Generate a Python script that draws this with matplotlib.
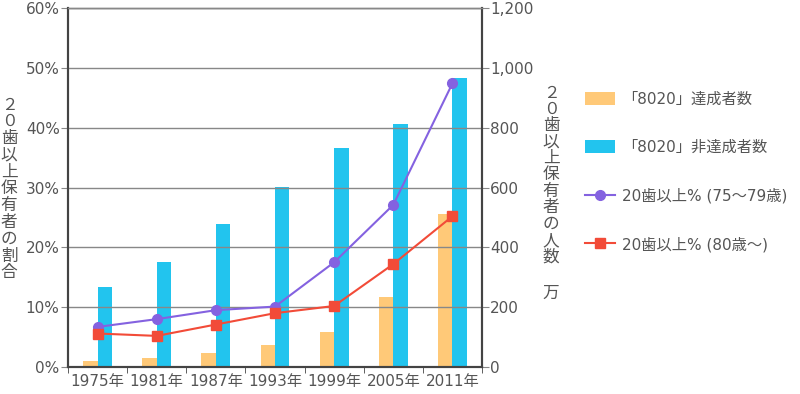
import matplotlib
matplotlib.use("Agg")
import matplotlib.pyplot as plt
from matplotlib.ticker import FuncFormatter, FixedLocator
from matplotlib.patches import Patch
from matplotlib.lines import Line2D
import numpy as np

plt.rcParams['font.family'] = ['DejaVu Sans', 'Noto Sans CJK JP']

years = ["1975年", "1981年", "1987年", "1993年", "1999年", "2005年", "2011年"]
achieved = [20, 29, 48, 74, 118, 234, 513]          # 「8020」達成者数 (万)
not_achieved = [267, 352, 478, 601, 732, 811, 965]  # 「8020」非達成者数 (万)
pct_75_79 = [6.7, 8.0, 9.5, 10.1, 17.5, 27.1, 47.4]
pct_80 = [5.6, 5.2, 7.1, 9.0, 10.2, 17.2, 25.2]

labels = ["「8020」達成者数", "「8020」非達成者数",
          "20歯以上% (75～79歳)", "20歯以上% (80歳～)"]
left_title = "２０歯以上保有者の割合"
right_title = "２０歯以上保有者の人数"
right_unit = "万"

c_orange = "#FFC978"
c_blue = "#22C4EE"
c_purple = "#8462E0"
c_red = "#F24B38"
tc = "#555555"
sc = "#444444"

W, H = 800, 394
fig = plt.figure(figsize=(W / 100, H / 100), dpi=100)
ax = fig.add_axes([0.085, 0.0685, 0.5175, 0.9112])
ax2 = ax.twinx()

x = np.arange(len(years))
w = 0.245

ax2.bar(x - w / 2, achieved, width=w, color=c_orange, zorder=2)
ax2.bar(x + w / 2, not_achieved, width=w, color=c_blue, zorder=2)
ax2.set_ylim(0, 1200)
ax2.set_yticks(np.arange(0, 1201, 200))
ax2.yaxis.set_major_formatter(FuncFormatter(lambda v, p: f"{int(v):,}"))

ax.set_ylim(0, 60)
ax.set_yticks(np.arange(0, 61, 10))
ax.yaxis.set_major_formatter(FuncFormatter(lambda v, p: f"{int(v)}%"))
ax.set_xlim(-0.5, len(years) - 0.5)

for v in range(10, 61, 10):
    ax.axhline(v, color="#888888", lw=1.0, zorder=0)

ax.set_zorder(ax2.get_zorder() + 1)
ax.patch.set_visible(False)
ax.plot(x, pct_75_79, color=c_purple, lw=1.5, marker="o", ms=7, zorder=3)
ax.plot(x, pct_80, color=c_red, lw=1.5, marker="s", ms=7, zorder=3)

ax.set_xticks(x)
ax.set_xticklabels(years)
ax.tick_params(axis="x", which="major", length=0, pad=5, labelsize=11, labelcolor=tc)
ax.xaxis.set_minor_locator(FixedLocator(np.arange(-0.5, len(years), 1.0)))
ax.tick_params(axis="x", which="minor", length=4, color=sc, direction="out")

ax.tick_params(axis="y", length=5, color="#888888", labelsize=11, labelcolor=tc, pad=1)
ax2.tick_params(axis="y", length=5, color="#888888", labelsize=11, labelcolor=tc, pad=1)

for a in (ax, ax2):
    for s in ("left", "right", "bottom"):
        a.spines[s].set_color(sc)
        a.spines[s].set_linewidth(1.5)
    a.spines["top"].set_color("#888888")
    a.spines["top"].set_linewidth(1.0)

# vertical (stacked) axis titles, one character per row
def vtext(chars, xc, y0, step):
    for i, ch in enumerate(chars):
        yy = y0 + i * step
        fig.text(xc / W, 1 - yy / H, ch, ha="center", va="center",
                 fontsize=12, color=tc, family=['Noto Sans CJK JP', 'DejaVu Sans'])

vtext(left_title, 9, 105, 16.8)
vtext(right_title, 551, 93, 16.4)
vtext(right_unit, 551, 293, 0)

handles = [
    Patch(facecolor=c_orange, edgecolor="none"),
    Patch(facecolor=c_blue, edgecolor="none"),
    Line2D([], [], color=c_purple, lw=1.5, marker="o", ms=7),
    Line2D([], [], color=c_red, lw=1.5, marker="s", ms=7),
]
fig.legend(handles, labels, loc="upper left", bbox_to_anchor=(585 / W, 1 - 92 / H),
           frameon=False, fontsize=11, labelcolor=tc, handlelength=1.95,
           handleheight=0.95, handletextpad=0.5, labelspacing=2.16,
           borderaxespad=0, borderpad=0)

fig.savefig("out.png", dpi=100)
